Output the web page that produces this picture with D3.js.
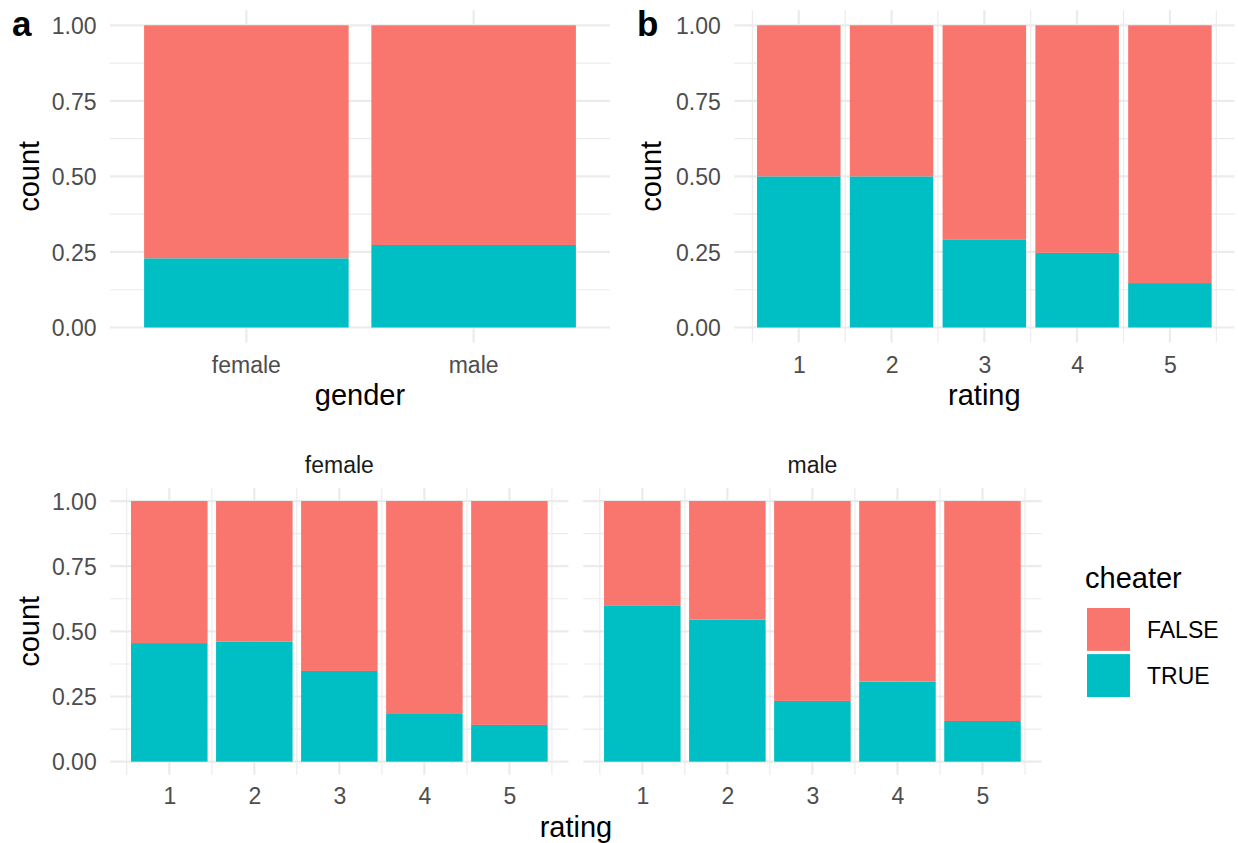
<!DOCTYPE html>
<html>
<head>
<meta charset="utf-8">
<script src="https://cdn.jsdelivr.net/npm/d3@7"></script>
<style>
  html, body { margin: 0; padding: 0; background: #ffffff; }
  svg { display: block; font-family: "Liberation Sans", Arial, Helvetica, sans-serif; }
</style>
</head>
<body>
<svg id="chart" width="1238" height="843"></svg>
<script>
// Share of cheaters (TRUE) per group; FALSE fills the rest of each bar.
const genders = ["female", "male"];
const genderTrue = [0.229, 0.273];

const ratings = [1, 2, 3, 4, 5];
const ratingTrue = [0.500, 0.500, 0.290, 0.247, 0.147];

const facets = ["female", "male"];
const femaleRatingTrue = [0.455, 0.460, 0.348, 0.183, 0.141];
const maleRatingTrue = [0.600, 0.545, 0.233, 0.307, 0.156];

const cheaterLevels = ["FALSE", "TRUE"];
const yTicks = [0, 0.25, 0.5, 0.75, 1];
const yMinor = [0.125, 0.375, 0.625, 0.875];

const fill = d3.scaleOrdinal().domain(cheaterLevels).range(["#F8766D", "#00BFC4"]);

const svg = d3.select("#chart");
const FONT_TICK = 23, FONT_TITLE = 29, FONT_TAG = 35;
const GRID = "#EBEBEB";

// Stack each bar as TRUE at the bottom and FALSE on top (proportions sum to 1).
function stackRows(keys, trueVals) {
  return keys.map((k, i) => ({ key: k, TRUE: trueVals[i], FALSE: 1 - trueVals[i] }));
}
const stacker = d3.stack().keys(["TRUE", "FALSE"]);

function yGrid(g, y, x0, x1) {
  g.selectAll(".ymin").data(yMinor).join("line")
    .attr("x1", x0).attr("x2", x1).attr("y1", d => y(d)).attr("y2", d => y(d))
    .attr("stroke", GRID).attr("stroke-width", 1.1);
  g.selectAll(".ymaj").data(yTicks).join("line")
    .attr("x1", x0).attr("x2", x1).attr("y1", d => y(d)).attr("y2", d => y(d))
    .attr("stroke", GRID).attr("stroke-width", 2.2);
}

function yAxis(g, y, x0) {
  const ax = g.append("g").attr("transform", `translate(${x0},0)`)
    .call(d3.axisLeft(y).tickValues(yTicks).tickFormat(d3.format(".2f")).tickSize(0).tickPadding(13.5));
  ax.select(".domain").remove();
  ax.selectAll("text").attr("font-size", FONT_TICK).attr("fill", "#4D4D4D")
    .attr("font-family", null).attr("dy", "0.36em");
}

function xAxis(g, x, yBase, offset, values, fmt) {
  const axis = d3.axisBottom(x).tickValues(values).tickSize(0).tickPadding(0);
  if (fmt) axis.tickFormat(fmt);
  const ax = g.append("g").attr("transform", `translate(0,${yBase})`).call(axis);
  ax.select(".domain").remove();
  ax.selectAll("text").attr("font-size", FONT_TICK).attr("fill", "#4D4D4D")
    .attr("font-family", null).attr("y", offset).attr("dy", 0);
}

function yTitle(xBase, yCenter) {
  svg.append("text").attr("transform", `translate(${xBase},${yCenter}) rotate(-90)`)
    .attr("text-anchor", "middle").attr("font-size", FONT_TITLE).attr("fill", "#000")
    .text("count");
}
function xTitle(xCenter, yBase, label) {
  svg.append("text").attr("x", xCenter).attr("y", yBase)
    .attr("text-anchor", "middle").attr("font-size", FONT_TITLE).attr("fill", "#000")
    .text(label);
}
function tag(x, y, label) {
  svg.append("text").attr("x", x).attr("y", y).attr("font-size", FONT_TAG)
    .attr("font-weight", "bold").attr("fill", "#000").text(label);
}

// Stacked bars on a continuous rating axis (bar width 0.9 units).
function ratingPanel(x0, x1, y, trueVals) {
  const g = svg.append("g");
  const x = d3.scaleLinear().domain([0.305, 5.695]).range([x0, x1]);
  const xMinor = [0.5, 1.5, 2.5, 3.5, 4.5, 5.5];
  yGrid(g, y, x0, x1);
  const [yb, yt] = y.range();
  g.selectAll(".xmin").data(xMinor).join("line")
    .attr("x1", d => x(d)).attr("x2", d => x(d)).attr("y1", yt).attr("y2", yb)
    .attr("stroke", GRID).attr("stroke-width", 1.1);
  g.selectAll(".xmaj").data(ratings).join("line")
    .attr("x1", d => x(d)).attr("x2", d => x(d)).attr("y1", yt).attr("y2", yb)
    .attr("stroke", GRID).attr("stroke-width", 2.2);
  const series = stacker(stackRows(ratings, trueVals));
  g.selectAll(".s").data(series).join("g").attr("fill", d => fill(d.key))
    .selectAll("rect").data(d => d).join("rect")
    .attr("x", d => x(d.data.key - 0.45))
    .attr("width", d => x(d.data.key + 0.45) - x(d.data.key - 0.45))
    .attr("y", d => y(d[1]))
    .attr("height", d => y(d[0]) - y(d[1]));
  return { g, x };
}

// ---- Panel a: cheating share by gender ----
{
  const x0 = 110, x1 = 610;
  const y = d3.scaleLinear().domain([-0.05, 1.05]).range([342.6, 10.2]);
  const x = d3.scaleBand().domain(genders).range([x0, x1]).paddingInner(0.1).paddingOuter(0.15);
  const g = svg.append("g");
  yGrid(g, y, x0, x1);
  g.selectAll(".xmaj").data(genders).join("line")
    .attr("x1", d => x(d) + x.bandwidth() / 2).attr("x2", d => x(d) + x.bandwidth() / 2)
    .attr("y1", 10.2).attr("y2", 342.6).attr("stroke", GRID).attr("stroke-width", 2.2);
  const series = stacker(stackRows(genders, genderTrue));
  g.selectAll(".s").data(series).join("g").attr("fill", d => fill(d.key))
    .selectAll("rect").data(d => d).join("rect")
    .attr("x", d => x(d.data.key)).attr("width", x.bandwidth())
    .attr("y", d => y(d[1])).attr("height", d => y(d[0]) - y(d[1]));
  yAxis(g, y, x0);
  xAxis(g, x, 342.6, 30.4, genders, null);
  yTitle(38.5, 176.4);
  xTitle((x0 + x1) / 2, 405, "gender");
  tag(12, 36, "a");
}

// ---- Panel b: cheating share by marriage rating ----
{
  const x0 = 734.3, x1 = 1234.4;
  const y = d3.scaleLinear().domain([-0.05, 1.05]).range([342.6, 10.2]);
  const { g, x } = ratingPanel(x0, x1, y, ratingTrue);
  yAxis(g, y, x0);
  xAxis(g, x, 342.6, 30.4, ratings, d3.format("d"));
  yTitle(661, 176.4);
  xTitle((x0 + x1) / 2, 405, "rating");
  tag(637, 36, "b");
}

// ---- Bottom: rating faceted by gender ----
{
  const yB = d3.scaleLinear().domain([-0.05, 1.05]).range([774.7, 488]);
  const panels = [
    { name: facets[0], x0: 110.2, x1: 568.5, vals: femaleRatingTrue },
    { name: facets[1], x0: 583.2, x1: 1041.6, vals: maleRatingTrue }
  ];
  panels.forEach((p, i) => {
    const { g, x } = ratingPanel(p.x0, p.x1, yB, p.vals);
    if (i === 0) yAxis(g, yB, p.x0);
    xAxis(g, x, 774.7, 29.3, ratings, d3.format("d"));
    svg.append("text").attr("x", (p.x0 + p.x1) / 2).attr("y", 473)
      .attr("text-anchor", "middle").attr("font-size", FONT_TICK).attr("fill", "#1A1A1A")
      .text(p.name);
  });
  yTitle(38.5, 631.4);
  xTitle((110.2 + 1041.6) / 2, 837, "rating");

  // Legend
  const lg = svg.append("g");
  lg.append("text").attr("x", 1085).attr("y", 588).attr("font-size", FONT_TITLE)
    .attr("fill", "#000").text("cheater");
  const keyY = d3.scaleBand().domain(cheaterLevels).range([608, 697]).paddingInner(0.07);
  lg.selectAll("rect").data(cheaterLevels).join("rect")
    .attr("x", 1087).attr("y", d => keyY(d)).attr("width", 43).attr("height", keyY.bandwidth())
    .attr("fill", d => fill(d));
  lg.selectAll(".lab").data(cheaterLevels).join("text")
    .attr("x", 1147).attr("y", d => keyY(d) + keyY.bandwidth() / 2)
    .attr("dy", "0.36em").attr("font-size", FONT_TICK).attr("fill", "#000")
    .text(d => d);
}
</script>
</body>
</html>
